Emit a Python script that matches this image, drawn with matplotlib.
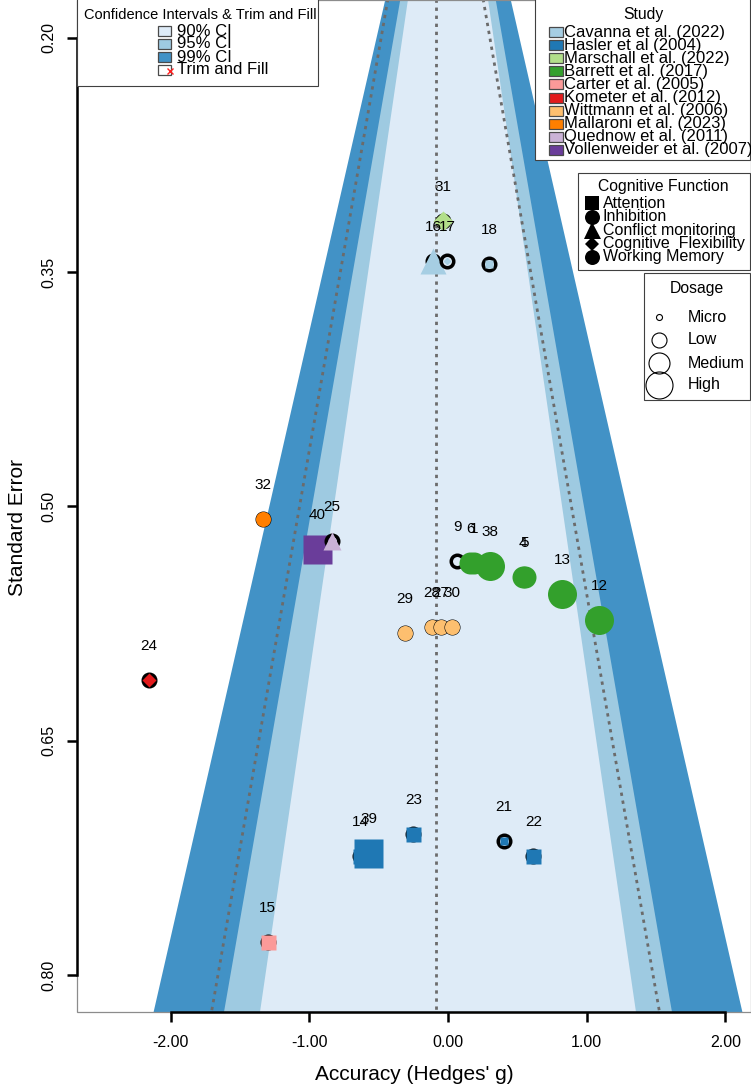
import matplotlib
matplotlib.use("Agg")
import matplotlib.pyplot as plt
from matplotlib.patches import Rectangle
import numpy as np

plt.rcParams['font.family'] = ['Liberation Sans', 'DejaVu Sans']

# ---------------- data ----------------
study_keys = ["Cavanna", "Hasler", "Marschall", "Barrett", "Carter",
              "Kometer", "Wittmann", "Mallaroni", "Quednow", "Vollenweider"]
study_labels = ["Cavanna et al. (2022)", "Hasler et al (2004)", "Marschall et al. (2022)",
                "Barrett et al. (2017)", "Carter et al. (2005)", "Kometer et al. (2012)",
                "Wittmann et al. (2006)", "Mallaroni et al. (2023)", "Quednow et al. (2011)",
                "Vollenweider et al. (2007)"]
study_colors = ["#A6CEE3", "#1F78B4", "#B2DF8A", "#33A02C", "#FB9A99",
                "#E31A1C", "#FDBF6F", "#FF7F00", "#CAB2D6", "#6A3D9A"]

functions = ["Attention", "Inhibition", "Conflict monitoring",
             "Cognitive  Flexibility", "Working Memory"]
function_markers = ["s", "o", "^", "D", "o"]

dosages = ["Micro", "Low", "Medium", "High"]

ci_labels = ["90% CI", "95% CI", "99% CI"]
ci_z = [1.645, 1.960, 2.576]
ci_colors = ["#DEEBF7", "#9ECAE1", "#4292C6"]

pooled_estimate = -0.09      # trim-and-fill centre

point_ids = [31, 16, 17, 18, 32, 40, 25, 9, 6, 1, 38, 4, 5, 13, 12,
             29, 28, 27, 30, 24, 23, 14, 39, 21, 22, 15]
hedges_g = [-0.036, -0.108, -0.007, 0.295, -1.335, -0.944, -0.836, 0.065, 0.159, 0.187,
            0.303, 0.541, 0.555, 0.822, 1.088, -0.310, -0.115, -0.050, 0.029, -2.155,
            -0.250, -0.634, -0.573, 0.404, 0.615, -1.299]
std_err = [0.317, 0.343, 0.343, 0.345, 0.508, 0.527, 0.522, 0.535, 0.536, 0.536,
           0.538, 0.545, 0.545, 0.556, 0.573, 0.581, 0.577, 0.577, 0.577, 0.611,
           0.710, 0.724, 0.722, 0.714, 0.724, 0.779]
point_study = ["Marschall", "Cavanna", "Cavanna", "Cavanna", "Mallaroni", "Vollenweider",
               "Quednow", "Barrett", "Barrett", "Barrett", "Barrett", "Barrett", "Barrett",
               "Barrett", "Barrett", "Wittmann", "Wittmann", "Wittmann", "Wittmann",
               "Kometer", "Hasler", "Hasler", "Hasler", "Hasler", "Hasler", "Carter"]
point_function = ["Cognitive  Flexibility", "Conflict monitoring", "Cognitive  Flexibility",
                  "Attention", "Working Memory", "Attention", "Conflict monitoring",
                  "Working Memory", "Working Memory", "Working Memory", "Working Memory",
                  "Working Memory", "Working Memory", "Working Memory", "Working Memory",
                  "Inhibition", "Inhibition", "Inhibition", "Inhibition",
                  "Cognitive  Flexibility", "Attention", "Attention", "Attention",
                  "Attention", "Attention", "Attention"]
point_dosage = ["Medium", "Medium", "Micro", "Micro", "Low", "High", "Low", "", "Medium",
                "Medium", "High", "Medium", "Medium", "High", "High", "Low", "Low", "Low",
                "Low", "Low", "Low", "Low", "High", "Micro", "Low", "Low"]

# ---------------- styles ----------------
PX = 0.72  # points per pixel at dpi 100
dose_px = {"Micro": 8, "Low": 15, "Medium": 22, "High": 29}
shape_factor = {"s": 1.0, "o": 1.0, "^": 1.15, "D": 0.67}
dose_legend_px = [6, 15, 21, 27]

fig = plt.figure(figsize=(7.51, 10.90), dpi=100)
W, H = 751, 1090
ax = fig.add_axes([77 / W, (H - 1012) / H, (W - 77) / W, 1012 / H])

# funnel regions
se_grid = np.linspace(0, 0.9, 300)
for z, col in sorted(zip(ci_z, ci_colors), reverse=True):
    ax.fill_betweenx(se_grid, -z * se_grid, z * se_grid, color=col, lw=0, zorder=1)

# trim-and-fill funnel (dotted)
dash_kw = dict(color="#6B6B6B", lw=2.0, linestyle=(0, (1.2, 1.7)), zorder=2)
ax.plot([pooled_estimate, pooled_estimate], [0, 0.9], **dash_kw)
ax.plot(pooled_estimate - 1.96 * se_grid, se_grid, **dash_kw)
ax.plot(pooled_estimate + 1.96 * se_grid, se_grid, **dash_kw)

# points
color_of = dict(zip(study_keys, study_colors))
marker_of = dict(zip(functions, function_markers))
zo = 4
for pid, g, s, st, fn, ds in zip(point_ids, hedges_g, std_err, point_study,
                                 point_function, point_dosage):
    ax.plot(g, s, "o", ms=12.5 * PX, mfc="none", mec="black", mew=3.5 * PX, zorder=zo)
    if ds:
        m = marker_of[fn]
        ax.plot(g, s, m, ms=dose_px[ds] * shape_factor[m] * PX, mfc=color_of[st],
                mec="none", zorder=zo + 0.1)
    zo += 0.2
for pid, g, s in zip(point_ids, hedges_g, std_err):
    ax.annotate(str(pid), (g, s), xytext=(0, 24.5), textcoords="offset points",
                ha="center", va="center", fontsize=11, zorder=20)

ax.set_xlim(-2.674, 2.184)
ax.set_ylim(0.8237, 0.1757)

xt = [-2, -1, 0, 1, 2]
ax.set_xticks(xt)
ax.set_xticklabels(["%.2f" % v for v in xt])
yt = [0.20, 0.35, 0.50, 0.65, 0.80]
ax.set_yticks(yt)
ax.set_yticklabels(["%.2f" % v for v in yt], rotation=90, va="center")

for side in ["top", "right"]:
    ax.spines[side].set_visible(False)
for side in ["left", "bottom"]:
    ax.spines[side].set_color("black")
    ax.spines[side].set_linewidth(1.8)
    ax.spines[side].set_zorder(6)
ax.spines["bottom"].set_bounds(-2, 2)
ax.spines["left"].set_bounds(0.2, 0.8)
ax.add_patch(Rectangle((0, 0), 1, 1, transform=ax.transAxes, fill=False,
                       ec="#8C8C8C", lw=0.9, zorder=5, clip_on=False))
ax.tick_params(axis="both", direction="out", length=7.5, width=1.8, labelsize=11.5)
ax.tick_params(axis="y", pad=7.5)
ax.tick_params(axis="x", pad=9)

ax.set_xlabel("Accuracy (Hedges' g)", fontsize=15)
ax.xaxis.set_label_coords(0.5, -(1074 - 1012) / 1012)
ax.xaxis.label.set_va("center")
ax.set_ylabel("Standard Error", fontsize=15)
ax.yaxis.set_label_coords((18 - 77) / 674, 1 - 527 / 1012)
ax.yaxis.label.set_va("center")

# ---------------- legends (overlay, pixel coordinates) ----------------
lax = fig.add_axes([0, 0, 1, 1], zorder=10)
lax.set_xlim(0, W)
lax.set_ylim(H, 0)
lax.axis("off")
box_kw = dict(fc="white", ec="#404040", lw=0.8)
sq_kw = dict(ec="#4A4A4A", lw=0.9)

# CI legend
lax.add_patch(Rectangle((77, -2), 241, 88, **box_kw))
lax.text(200, 15, "Confidence Intervals & Trim and Fill", ha="center", va="center",
         fontsize=10.5)
rows = [31, 44, 57]
for y, lab, col in zip(rows, ci_labels, ci_colors):
    lax.add_patch(Rectangle((158, y - 5), 13, 10, fc=col, **sq_kw))
    lax.text(177, y, lab, ha="left", va="center", fontsize=12)
lax.add_patch(Rectangle((158, 65), 13, 10, fc="white", **sq_kw))
lax.plot(170, 71, "x", color="#FF2020", ms=6 * PX, mew=1.0)
lax.text(177, 70, "Trim and Fill", ha="left", va="center", fontsize=12)

# Study legend
lax.add_patch(Rectangle((535, -2), 215, 162, **box_kw))
lax.text(643, 15, "Study", ha="center", va="center", fontsize=11.3)
for i, (lab, col) in enumerate(zip(study_labels, study_colors)):
    y = 32 + 13.1 * i
    lax.add_patch(Rectangle((549, y - 5), 14, 10, fc=col, **sq_kw))
    lax.text(564, y, lab, ha="left", va="center", fontsize=12)

# Cognitive function legend
lax.add_patch(Rectangle((578, 173), 172, 97, **box_kw))
lax.text(663, 187, "Cognitive Function", ha="center", va="center", fontsize=11.3)
leg_sym_px = {"s": 14, "o": 15, "^": 17, "D": 10}
for i, (lab, m) in enumerate(zip(functions, function_markers)):
    y = 203 + 13.5 * i
    lax.plot(592, y, m, color="black", ms=leg_sym_px[m] * PX, mew=0)
    lax.text(603, y, lab, ha="left", va="center", fontsize=11.5)

# Dosage legend
lax.add_patch(Rectangle((644, 273), 106, 127, **box_kw))
lax.text(697, 288, "Dosage", ha="center", va="center", fontsize=11.3)
for y, lab, d in zip([317, 340, 363, 385], dosages, dose_legend_px):
    lax.plot(659, y, "o", mfc="none", mec="black", ms=d * PX, mew=0.8)
    lax.text(688, y, lab, ha="left", va="center", fontsize=11.5)

fig.savefig("out.png", dpi=100)
